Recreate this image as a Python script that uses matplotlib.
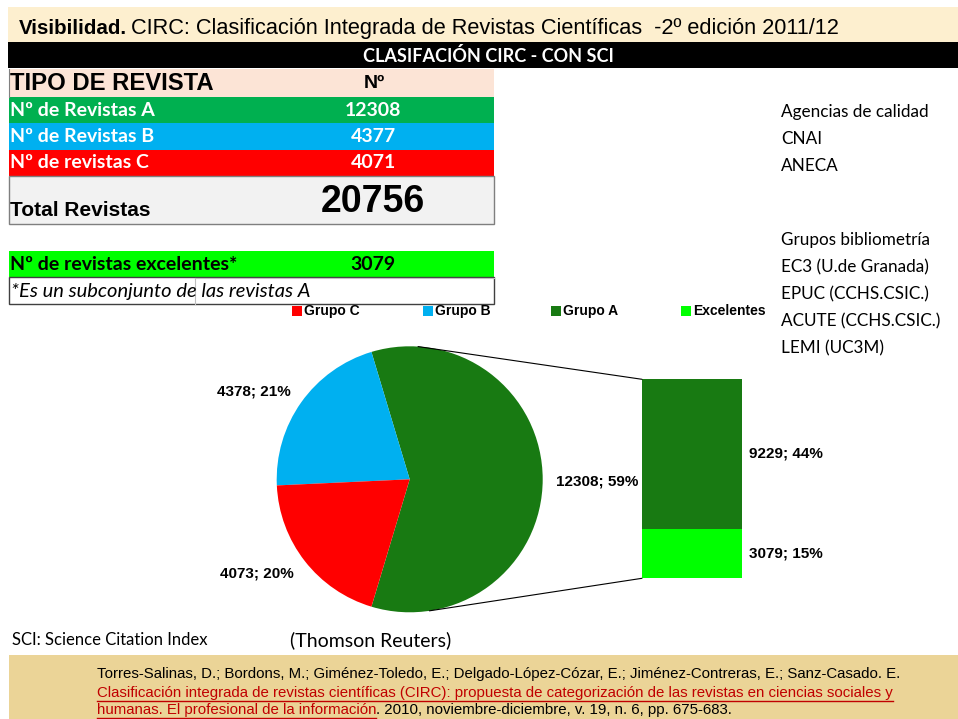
import numpy as np
import matplotlib.pyplot as plt
from matplotlib.patches import Rectangle, ConnectionPatch
from matplotlib import font_manager

# --- data ---
tipos = ["Nº de Revistas A", "Nº de Revistas B", "Nº de revistas C"]
numeros = [12308, 4377, 4071]
excelentes = 3079

grupos = ["Grupo C", "Grupo B", "Grupo A", "Excelentes"]
pie_vals = [12308, 4378, 4073]          # A, B, C as drawn in the pie
bar_vals = [3079, 9229]                 # Excelentes, resto de A

agencias = ["Agencias de calidad", "CNAI", "ANECA"]
grupos_bib = ["Grupos bibliometría", "EC3 (U.de Granada)", "EPUC (CCHS.CSIC.)",
              "ACUTE (CCHS.CSIC.)", "LEMI (UC3M)"]

ref_autores = ("Torres-Salinas, D.; Bordons, M.; Giménez-Toledo, E.; Delgado-López-Cózar, E.; "
               "Jiménez-Contreras, E.; Sanz-Casado. E.")
ref_titulo1 = ("Clasificación integrada de revistas científicas (CIRC): propuesta de categorización "
               "de las revistas en ciencias sociales y")
ref_titulo2 = "humanas. El profesional de la información"
ref_resto = ". 2010, noviembre-diciembre, v. 19, n. 6, pp. 675-683."

# --- colours ---
c_a, c_b, c_c = "#00B050", "#00B0F0", "#FF0000"
c_pie_a, c_exc = "#187A12", "#00FF00"
ref_red = "#C00000"

names = {f.name for f in font_manager.fontManager.ttflist}
narrow = "Liberation Sans Narrow" if "Liberation Sans Narrow" in names else "Liberation Sans"
calib = "Lato"
arial = "Liberation Sans"

fig = plt.figure(figsize=(9.58, 7.19), dpi=100)
bg = fig.add_axes([0, 0, 1, 1])
bg.set_xlim(0, 958)
bg.set_ylim(719, 0)
bg.axis("off")


def box(x0, y0, x1, y1, fc, ec="none", lw=0):
    bg.add_patch(Rectangle((x0, y0), x1 - x0, y1 - y0, facecolor=fc, edgecolor=ec, lw=lw))


# title band and header
box(8, 7, 958, 42, "#FDEFCF")
box(8, 42, 958, 68, "black")
bg.text(19, 34, "Visibilidad.", fontsize=14.8, fontweight="bold", family=narrow,
        va="baseline")
bg.text(131, 34, "CIRC: Clasificación Integrada de Revistas Científicas  -2º edición 2011/12",
        va="baseline", fontsize=15.7, family=narrow)
bg.text(488, 56, "CLASIFACIÓN CIRC - CON SCI", color="white", fontsize=13,
        fontweight="bold", family=calib, ha="center", va="center")

# table
box(9, 69, 494, 97, "#FCE4D6")
bg.plot([9, 9], [69, 97], color="#808080", lw=0.8)
bg.text(10, 84, "TIPO DE REVISTA", fontsize=17.2, fontweight="bold", family=arial, va="center")
bg.text(374, 83, "Nº", fontsize=14, fontweight="bold", family=arial, ha="center", va="center")

row_y = [(97, 123), (123, 150), (150, 176)]
for (y0, y1), nombre, n, col in zip(row_y, tipos, numeros, [c_a, c_b, c_c]):
    box(9, y0, 494, y1, col)
    ym = (y0 + y1) / 2
    bg.text(10, ym, nombre, color="white", fontsize=14, fontweight="bold", family=calib, va="center")
    bg.text(373, ym, str(n), color="white", fontsize=14, fontweight="bold", family=calib,
            ha="center", va="center")

box(9, 176, 494, 224, "#F2F2F2", ec="#7F7F7F", lw=1)
bg.text(10, 211, "Total Revistas", fontsize=15, fontweight="bold", family=arial, va="center")
bg.text(373, 202, str(sum(numeros)), fontsize=27, fontweight="bold", family=arial,
        ha="center", va="center")

box(9, 251, 494, 277, c_exc)
bg.text(10, 265, "Nº de revistas excelentes*", fontsize=14, fontweight="bold", family=calib,
        va="center")
bg.text(373, 265, str(excelentes), fontsize=14, fontweight="bold", family=calib,
        ha="center", va="center")
box(9, 277, 494, 304, "white", ec="#404040", lw=1)
bg.plot([195, 494], [277.5, 277.5], color="#BFBFBF", lw=0.8)
bg.plot([195, 195], [277.5, 304], color="#BFBFBF", lw=0.8)
bg.text(11, 292, "*Es un subconjunto de las revistas A", fontsize=14.5, style="italic",
        family=calib, va="center")

# right side notes
for i, s in enumerate(agencias):
    bg.text(781, 112 + 27 * i, s, fontsize=12.3, family=calib, va="center")
for i, s in enumerate(grupos_bib):
    bg.text(781, 240 + 27 * i, s, fontsize=12.3, family=calib, va="center")

# legend
leg_x = [297, 428, 556, 686]
for x, g, col in zip(leg_x, grupos, [c_c, c_b, c_pie_a, c_exc]):
    box(x - 5, 306, x + 5, 316, col)
    bg.text(x + 7, 311, g, fontsize=10, fontweight="bold", family=narrow, va="center")

# pie
total_pie = sum(pie_vals)
ax_pie = fig.add_axes([276.7 / 958, (719 - 612.3) / 719, 266 / 958, 266 / 719])
ax_pie.pie(pie_vals, colors=[c_pie_a, c_b, c_c], startangle=-pie_vals[0] / total_pie * 180,
           counterclock=True, radius=1)
ax_pie.set_xlim(-1, 1)
ax_pie.set_ylim(-1, 1)
ax_pie.set_aspect("equal")
ax_pie.axis("off")

pie_lbl_pos = [(597, 481), (254, 391), (257, 573)]
for (x, y), v in zip(pie_lbl_pos, pie_vals):
    bg.text(x, y, f"{v}; {round(100 * v / total_pie)}%", fontsize=11, fontweight="bold",
            family=narrow, ha="center", va="center")

# bar of the split slice
ax_bar = fig.add_axes([642 / 958, (719 - 578.3) / 719, 99.5 / 958, 199 / 719])
ax_bar.bar([0], [bar_vals[0]], width=1, color=c_exc)
ax_bar.bar([0], [bar_vals[1]], width=1, bottom=bar_vals[0], color=c_pie_a)
ax_bar.set_xlim(-0.5, 0.5)
ax_bar.set_ylim(0, sum(bar_vals))
ax_bar.axis("off")

bar_lbl_y = [554, 454]
for y, v in zip(bar_lbl_y, bar_vals):
    bg.text(749, y, f"{v}; {round(100 * v / total_pie)}%", fontsize=11, fontweight="bold",
            family=narrow, va="center")

# connector lines pie -> bar
for ang, ybar in [(86.4, sum(bar_vals)), (-81.5, 0)]:
    a = np.deg2rad(ang)
    con = ConnectionPatch(xyA=(np.cos(a), np.sin(a)), coordsA=ax_pie.transData,
                          xyB=(-0.5, ybar), coordsB=ax_bar.transData, color="black", lw=0.8)
    fig.add_artist(con)

# footnotes
bg.text(12, 640, "SCI: Science Citation Index", fontsize=12, family=calib, va="center")
bg.text(290, 640, "(Thomson Reuters)", fontsize=14, family=calib, va="center")

# reference band
box(9, 655, 958, 719, "#EBD497")
r1 = bg.text(97, 674, ref_autores, fontsize=10.8, family=narrow, va="center")
r2 = bg.text(97, 693, ref_titulo1, fontsize=10.8, family=narrow, va="center", color=ref_red)
r3 = bg.text(97, 710, ref_titulo2, fontsize=10.8, family=narrow, va="center", color=ref_red)
bg.annotate(ref_resto, xy=(1, 0), xycoords=r3, va="bottom", fontsize=10.8, family=narrow)

fig.canvas.draw()
inv = bg.transData.inverted()
for t in (r2, r3):
    bb = t.get_window_extent()
    (x0, y0), (x1, _) = inv.transform([(bb.x0, bb.y0), (bb.x1, bb.y0)])
    bg.plot([x0, x1], [y0 + 0.5, y0 + 0.5], color=ref_red, lw=1)

fig.savefig("out.png", dpi=100)
